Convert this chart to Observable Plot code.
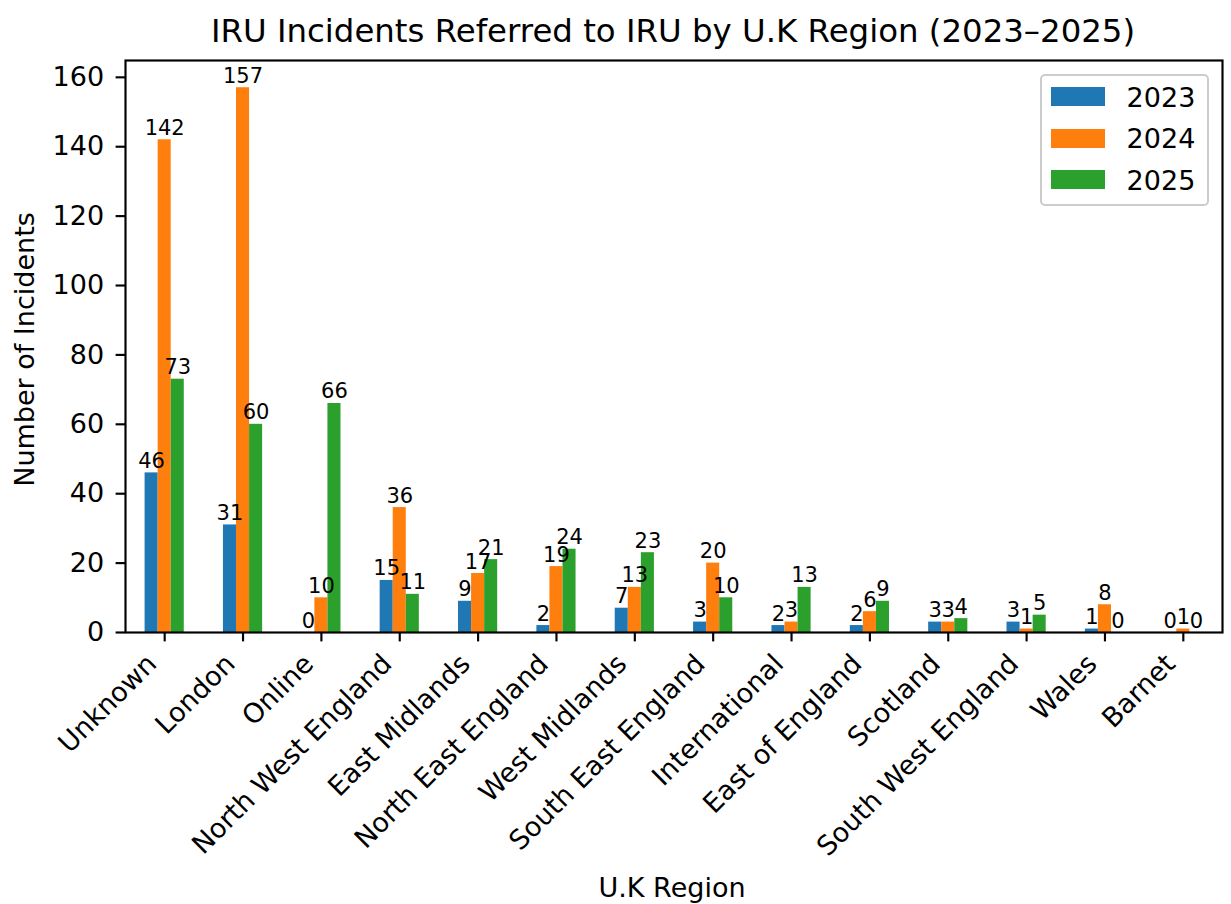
<!DOCTYPE html>
<html>
<head>
<meta charset="utf-8">
<script src="https://cdn.jsdelivr.net/npm/d3@7"></script>
<script src="https://cdn.jsdelivr.net/npm/@observablehq/plot@0.6"></script>
<style>
  body { margin: 0; background: #fff; font-family: "DejaVu Sans", sans-serif; }
  #chart { position: relative; width: 1231px; height: 904px; overflow: hidden; }
  #chart svg { position: absolute; left: 0; top: 0; }
  .txt { position: absolute; color: #000; white-space: nowrap; line-height: 1; text-align: center; }
  .legend-box { position: absolute; box-sizing: border-box; border: 2px solid #cccccc; border-radius: 5px; background: rgba(255,255,255,0.8); }
  .swatch { position: absolute; }
</style>
</head>
<body>
<div id="chart"></div>
<script>
// Incidents referred to the IRU, by region and year
const regions = [
  "Unknown", "London", "Online", "North West England", "East Midlands",
  "North East England", "West Midlands", "South East England", "International",
  "East of England", "Scotland", "South West England", "Wales", "Barnet"
];
const years = ["2023", "2024", "2025"];
const counts2023 = [46, 31, 0, 15, 9, 2, 7, 3, 2, 2, 3, 3, 1, 0];
const counts2024 = [142, 157, 10, 36, 17, 19, 13, 20, 3, 6, 3, 1, 8, 1];
const counts2025 = [73, 60, 66, 11, 21, 24, 23, 10, 13, 9, 4, 5, 0, 0];
const yTicks = [0, 20, 40, 60, 80, 100, 120, 140, 160];
const yMax = 164.85; // 5% headroom above the tallest bar
const colors = ["#1f77b4", "#ff7f0e", "#2ca02c"];
const titleText = "IRU Incidents Referred to IRU by U.K Region (2023–2025)";
const xLabel = "U.K Region";
const yLabel = "Number of Incidents";

const series = [counts2023, counts2024, counts2025];
const rows = regions.flatMap((region, i) =>
  years.map((year, k) => ({region, year, value: series[k][i]}))
);

const chart = Plot.plot({
  width: 1231,
  height: 904,
  marginTop: 60,
  marginBottom: 272,
  marginLeft: 125,
  marginRight: 9,
  style: {fontFamily: '"DejaVu Sans", sans-serif', fontSize: "27px", color: "#000", background: "transparent"},
  fx: {domain: regions, padding: 0, round: false, label: null},
  x: {domain: years, paddingInner: 0, paddingOuter: 1.5, round: false, axis: null},
  y: {domain: [0, yMax], label: null},
  color: {domain: years, range: colors},
  marks: [
    Plot.barY(rows, {fx: "region", x: "year", y: "value", fill: "year"}),
    Plot.text(rows, {
      fx: "region", x: "year", y: "value", text: (d) => String(d.value),
      lineAnchor: "bottom", dy: -5, fontSize: 21, fill: "#000"
    }),
    Plot.frame({facet: "super", stroke: "#000", strokeWidth: 2.15}),
    Plot.axisY({ticks: yTicks, tickSize: 9.4, tickPadding: 12, strokeWidth: 2.15, fontSize: 27, label: null}),
    Plot.axisFx({anchor: "bottom", tickSize: 9.4, strokeWidth: 2.15, tickFormat: () => "", label: null}),
    Plot.text(regions, {
      fx: (d) => d, text: (d) => d, frameAnchor: "bottom", rotate: -45,
      textAnchor: "end", lineAnchor: "bottom", dx: -6.5, dy: 33, fontSize: 27, fill: "#000"
    })
  ]
});

const root = document.getElementById("chart");
root.appendChild(chart);

function addText(text, css) {
  const el = document.createElement("div");
  el.className = "txt";
  el.textContent = text;
  Object.assign(el.style, css);
  root.appendChild(el);
  return el;
}

// Title and axis titles
addText(titleText, {left: "173px", top: "15px", width: "1000px", fontSize: "32.4px"});
addText(xLabel, {left: "472px", top: "874px", width: "400px", fontSize: "27px"});
addText(yLabel, {left: "-176px", top: "335.5px", width: "400px", height: "27px", fontSize: "27px", transform: "rotate(-90deg)"});

// Legend
const box = document.createElement("div");
box.className = "legend-box";
Object.assign(box.style, {left: "1040px", top: "73.5px", width: "168.5px", height: "132px"});
root.appendChild(box);
const rowCenters = [96.7, 138, 179.3];
years.forEach((year, k) => {
  const sw = document.createElement("div");
  sw.className = "swatch";
  Object.assign(sw.style, {left: "1051px", top: (rowCenters[k] - 9.5) + "px", width: "54px", height: "19px", background: colors[k]});
  root.appendChild(sw);
  addText(year, {left: "1126.6px", top: (rowCenters[k] - 12.8) + "px", fontSize: "27px", textAlign: "left"});
});
</script>
</body>
</html>
